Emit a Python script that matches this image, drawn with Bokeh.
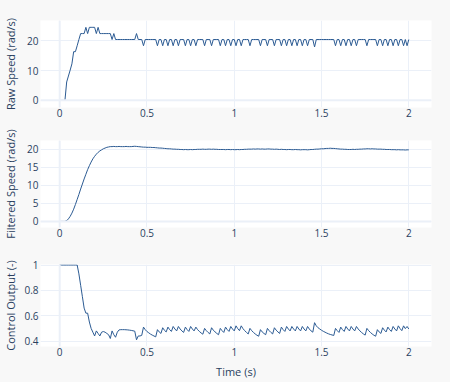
from bokeh.plotting import figure
from bokeh.layouts import column
from bokeh.models import FixedTicker, Span, Range1d
from bokeh.embed import file_html
from bokeh.resources import INLINE

# sample period of the logged signals (s)
t_step = 0.01

raw_speed = [
    0, 0, 0, 0, 6.2, 8.2, 10.2, 12.3, 16.4, 16.4,
    18.4, 20.5, 22.5, 22.5, 22.5, 24.6, 22.5, 24.6, 24.6, 24.6,
    24.6, 22.5, 24.6, 22.5, 22.5, 22.5, 22.5, 22.5, 22.5, 22.5,
    20.5, 22.5, 20.5, 20.5, 20.5, 20.5, 20.5, 20.5, 20.5, 20.5,
    20.5, 20.5, 20.5, 20.5, 22.5, 20.5, 20.5, 20.5, 18.4, 20.5,
    20.5, 20.5, 20.5, 20.5, 20.5, 20.5, 18.4, 20.5, 20.5, 18.4,
    20.5, 20.5, 18.4, 20.5, 20.5, 18.4, 20.5, 20.5, 18.4, 20.5,
    20.5, 20.5, 18.4, 20.5, 20.5, 18.4, 20.5, 20.5, 18.4, 20.5,
    20.5, 20.5, 20.5, 18.4, 20.5, 20.5, 20.5, 18.4, 20.5, 20.5,
    20.5, 20.5, 18.4, 20.5, 20.5, 18.4, 20.5, 20.5, 18.4, 20.5,
    20.5, 18.4, 20.5, 20.5, 18.4, 20.5, 20.5, 20.5, 20.5, 18.4,
    20.5, 20.5, 20.5, 20.5, 20.5, 18.4, 20.5, 20.5, 20.5, 18.4,
    20.5, 20.5, 20.5, 18.4, 20.5, 20.5, 20.5, 18.4, 20.5, 20.5,
    18.4, 20.5, 20.5, 18.4, 20.5, 20.5, 18.4, 20.5, 20.5, 18.4,
    20.5, 20.5, 18.4, 20.5, 20.5, 20.5, 18.0, 20.5, 20.5, 20.5,
    20.5, 20.5, 20.5, 20.5, 20.5, 20.5, 20.5, 20.5, 18.4, 20.5,
    20.5, 18.4, 20.5, 20.5, 18.4, 20.5, 20.5, 18.4, 20.5, 20.5,
    18.4, 20.5, 20.5, 20.5, 20.5, 20.5, 18.4, 20.5, 20.5, 20.5,
    20.5, 20.5, 18.4, 20.5, 20.5, 18.4, 20.5, 20.5, 18.4, 20.5,
    20.5, 18.4, 20.5, 20.5, 18.4, 20.5, 20.5, 18.4, 20.5, 18.4,
    20.5,
]

filtered_speed = [
    0, 0, 0, 0, 0.2, 0.7, 1.4, 2.3, 3.4, 4.7,
    6.1, 7.5, 9.0, 10.4, 11.8, 13.1, 14.4, 15.5, 16.5, 17.4,
    18.1, 18.7, 19.2, 19.6, 19.9, 20.2, 20.4, 20.6, 20.7, 20.8,
    20.8, 20.85, 20.8, 20.8, 20.85, 20.8, 20.8, 20.8, 20.85, 20.8,
    20.8, 20.8, 20.85, 20.9, 20.85, 20.8, 20.75, 20.7, 20.65, 20.65,
    20.6, 20.6, 20.6, 20.55, 20.55, 20.5, 20.45, 20.4, 20.4, 20.35,
    20.3, 20.25, 20.2, 20.2, 20.15, 20.1, 20.1, 20.05, 20.05, 20.0,
    20.0, 19.95, 20.0, 19.95, 19.95, 20.0, 19.95, 20.0, 20.0, 20.05,
    20.05, 20.05, 20.1, 20.05, 20.05, 20.1, 20.1, 20.05, 20.1, 20.05,
    20.05, 20.0, 20.0, 20.0, 20.0, 19.95, 20.0, 20.0, 19.95, 20.0,
    19.95, 19.95, 20.0, 19.95, 20.0, 20.0, 20.05, 20.05, 20.1, 20.1,
    20.1, 20.15, 20.1, 20.15, 20.15, 20.1, 20.15, 20.1, 20.1, 20.15,
    20.15, 20.1, 20.1, 20.05, 20.1, 20.05, 20.0, 20.05, 20.0, 20.0,
    19.95, 20.0, 20.0, 19.95, 19.95, 20.0, 19.95, 19.95, 19.9, 19.95,
    19.95, 19.95, 19.9, 19.95, 20.0, 20.0, 20.05, 20.1, 20.1, 20.15,
    20.2, 20.2, 20.25, 20.3, 20.3, 20.35, 20.3, 20.3, 20.25, 20.2,
    20.15, 20.1, 20.1, 20.05, 20.05, 20.0, 20.0, 20.0, 20.05, 20.0,
    20.05, 20.05, 20.1, 20.1, 20.15, 20.15, 20.2, 20.2, 20.15, 20.2,
    20.15, 20.15, 20.1, 20.1, 20.1, 20.05, 20.05, 20.0, 20.0, 20.0,
    19.95, 19.95, 19.95, 19.9, 19.95, 19.9, 19.9, 19.9, 19.85, 19.9,
    19.9,
]

control_output = [
    1.0, 1.0, 1.0, 1.0, 1.0, 1.0, 1.0, 1.0, 1.0, 1.0,
    1.0, 0.93, 0.84, 0.75, 0.66, 0.62, 0.62, 0.55, 0.50, 0.47,
    0.44, 0.48, 0.46, 0.44, 0.47, 0.475, 0.47, 0.46, 0.45, 0.42,
    0.48, 0.45, 0.43, 0.47, 0.488, 0.49, 0.49, 0.49, 0.489, 0.488,
    0.486, 0.484, 0.481, 0.478, 0.41, 0.44, 0.44, 0.445, 0.51, 0.49,
    0.475, 0.465, 0.455, 0.447, 0.44, 0.433, 0.49, 0.472, 0.46, 0.505,
    0.485, 0.472, 0.51, 0.49, 0.476, 0.515, 0.495, 0.48, 0.515, 0.495,
    0.48, 0.468, 0.51, 0.49, 0.476, 0.515, 0.495, 0.48, 0.51, 0.49,
    0.476, 0.464, 0.454, 0.50, 0.482, 0.468, 0.456, 0.505, 0.486, 0.472,
    0.46, 0.45, 0.50, 0.482, 0.468, 0.51, 0.49, 0.476, 0.515, 0.495,
    0.48, 0.52, 0.498, 0.482, 0.52, 0.498, 0.482, 0.468, 0.456, 0.50,
    0.482, 0.468, 0.456, 0.446, 0.438, 0.49, 0.472, 0.46, 0.45, 0.50,
    0.482, 0.468, 0.456, 0.505, 0.486, 0.472, 0.46, 0.51, 0.49, 0.476,
    0.515, 0.495, 0.48, 0.515, 0.495, 0.48, 0.515, 0.495, 0.48, 0.515,
    0.495, 0.48, 0.515, 0.495, 0.48, 0.47, 0.545, 0.52, 0.505, 0.495,
    0.485, 0.477, 0.47, 0.463, 0.457, 0.452, 0.448, 0.444, 0.50, 0.482,
    0.468, 0.51, 0.49, 0.476, 0.515, 0.495, 0.48, 0.515, 0.495, 0.48,
    0.515, 0.495, 0.48, 0.467, 0.456, 0.447, 0.50, 0.482, 0.468, 0.456,
    0.446, 0.438, 0.49, 0.472, 0.46, 0.505, 0.486, 0.472, 0.51, 0.49,
    0.476, 0.515, 0.495, 0.48, 0.52, 0.498, 0.482, 0.52, 0.498, 0.515,
    0.495,
]

time_s = [round(i * t_step, 2) for i in range(len(raw_speed))]

x_ticks = [0, 0.5, 1, 1.5, 2]
x_tick_labels = ["0", "0.5", "1", "1.5", "2"]
raw_ticks = [0, 10, 20]
filt_ticks = [0, 5, 10, 15, 20]
ctrl_ticks = [0.4, 0.6, 0.8, 1.0]
ctrl_tick_labels = ["0.4", "0.6", "0.8", "1"]

LINE = "#2c5b93"
GRID = "#ebf0f8"
TXT = "#2a3f5f"
BG = "#f8f8f8"
FONT = "Open Sans"


def make(ys, ylabel, yr, yticks, ylabels, fh, top, bottom, lab_gap,
         xlabel=None, zero=True):
    p = figure(frame_width=391, frame_height=fh, output_backend="svg",
               toolbar_location=None, min_border_left=33, min_border_right=10,
               min_border_top=top, min_border_bottom=bottom,
               x_range=Range1d(-0.11, 2.13), y_range=Range1d(*yr))
    p.background_fill_color = "white"
    p.border_fill_color = BG
    p.outline_line_color = None
    for ax in (p.xaxis[0], p.yaxis[0]):
        ax.axis_line_color = None
        ax.major_tick_line_color = None
        ax.minor_tick_line_color = None
        ax.major_tick_out = 0
        ax.major_tick_in = 0
        ax.minor_tick_out = 0
        ax.minor_tick_in = 0
        ax.major_label_text_font = FONT
        ax.major_label_text_font_size = "10px"
        ax.major_label_text_color = TXT
        ax.axis_label_text_font = FONT
        ax.axis_label_text_font_size = "11px"
        ax.axis_label_text_font_style = "normal"
        ax.axis_label_text_color = TXT
    p.xaxis.major_label_standoff = 1
    p.yaxis.major_label_standoff = 2
    p.xaxis.ticker = FixedTicker(ticks=x_ticks)
    p.xaxis.major_label_overrides = {k: v for k, v in zip(x_ticks, x_tick_labels)}
    p.yaxis.ticker = FixedTicker(ticks=yticks)
    p.yaxis.major_label_overrides = {k: v for k, v in zip(yticks, ylabels)}
    p.yaxis.axis_label = ylabel
    p.yaxis.axis_label_standoff = lab_gap
    if xlabel:
        p.xaxis.axis_label = xlabel
        p.xaxis.axis_label_standoff = 5
    p.xgrid.grid_line_color = GRID
    p.ygrid.grid_line_color = GRID
    p.add_layout(Span(location=0, dimension="height", line_color=GRID, line_width=2))
    if zero:
        p.add_layout(Span(location=0, dimension="width", line_color=GRID, line_width=2))
    p.line(time_s, ys, line_color=LINE, line_width=1)
    return p


p1 = make(raw_speed, "Raw Speed (rad/s)", (-2.4, 26.9), raw_ticks,
          [str(v) for v in raw_ticks], 87, 20, 20, 6)
p2 = make(filtered_speed, "Filtered Speed (rad/s)", (-1.7, 22.5), filt_ticks,
          [str(v) for v in filt_ticks], 87, 13, 20, 6)
p3 = make(control_output, "Control Output (-)", (0.357, 1.004), ctrl_ticks,
          ctrl_tick_labels, 82, 17, 20, 3, xlabel="Time (s)", zero=False)

layout = column(p1, p2, p3, spacing=0)
layout.styles = {"background-color": BG}

html = file_html(layout, INLINE)
html = html.replace("<head>", "<head><style>html,body{background:%s;}</style>" % BG, 1)
open("out.html", "w").write(html)
